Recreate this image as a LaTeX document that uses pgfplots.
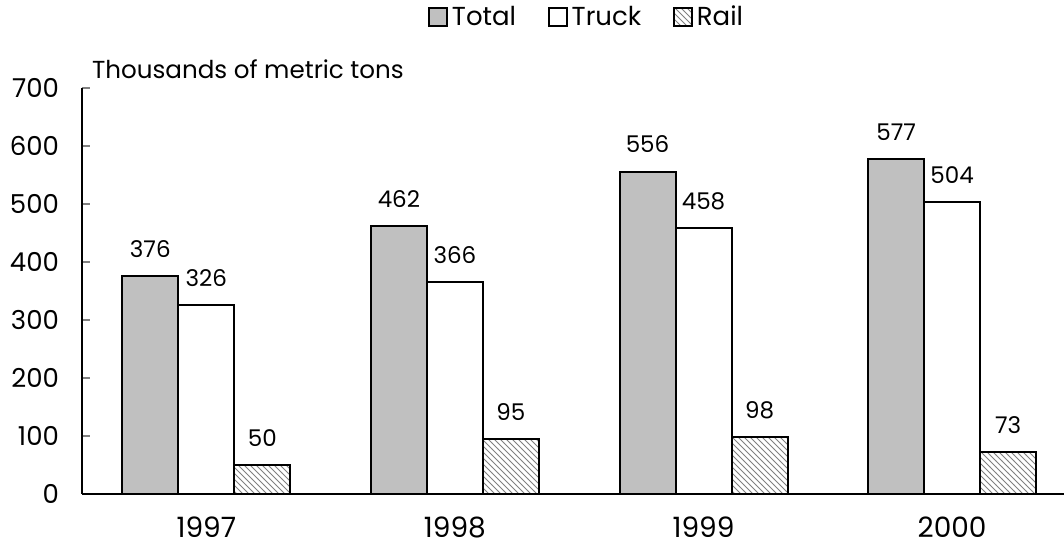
\documentclass[border=0pt]{standalone}
\usepackage{fontspec}
\setmainfont{Poppins}
\usepackage{pgfplots}
\pgfplotsset{compat=1.18}
\usetikzlibrary{patterns}
\definecolor{totalgray}{RGB}{192,192,192}

\begin{document}
\begin{tikzpicture}
\useasboundingbox (-41pt,-25.5pt) rectangle (491pt,247pt);
\begin{axis}[
    scale only axis,
    width=491pt, height=203pt,
    at={(0,0)}, anchor=south west,
    ybar=0pt, bar width=28pt,
    xmin=-0.5, xmax=3.45,
    ymin=0, ymax=700,
    ytick={0,100,...,700},
    xtick={0,1,2,3},
    xticklabels={1997,1998,1999,2000},
    axis lines=left,
    axis line style={-, line width=1pt},
    x axis line style={line width=0.6pt},
    ytick align=inside,
    ytick style={gray, line width=0.6pt},
    major tick length=4pt,
    xtick style={draw=none},
    /pgf/number format/assume math mode=true,
    yticklabel style={font=\fontsize{13}{15}\selectfont, xshift=-8pt},
    xticklabel style={font=\fontsize{14}{16}\selectfont, yshift=-6pt},
    clip=false,
    nodes near coords,
    nodes near coords style={anchor=center, yshift=13.5pt, font=\fontsize{11.5}{13}\selectfont, black},
    legend columns=3,
    legend style={at={(0.515,1.175)}, anchor=center, draw=none, fill=none,
        font=\fontsize{13}{15}\selectfont,
        /tikz/every even column/.append style={column sep=14pt}},
    legend image code/.code={\draw[#1, line width=0.8pt] (0pt,-4.5pt) rectangle (9pt,4.5pt);},
]
\addplot[draw=black, line width=1pt, fill=totalgray] coordinates {(0,376) (1,462) (2,556) (3,577)};
\addlegendentry{Total}
\addplot[draw=black, line width=1pt, fill=white] coordinates {(0,326) (1,366) (2,458) (3,504)};
\addlegendentry{Truck}
\addplot[draw=black, line width=1pt, pattern=north west lines, pattern color=gray] coordinates {(0,50) (1,95) (2,98) (3,73)};
\addlegendentry{Rail}
\node[anchor=west, font=\fontsize{12.3}{14}\selectfont] at (rel axis cs:0.003,1.047) {Thousands of metric tons};
\end{axis}
\end{tikzpicture}
\end{document}
